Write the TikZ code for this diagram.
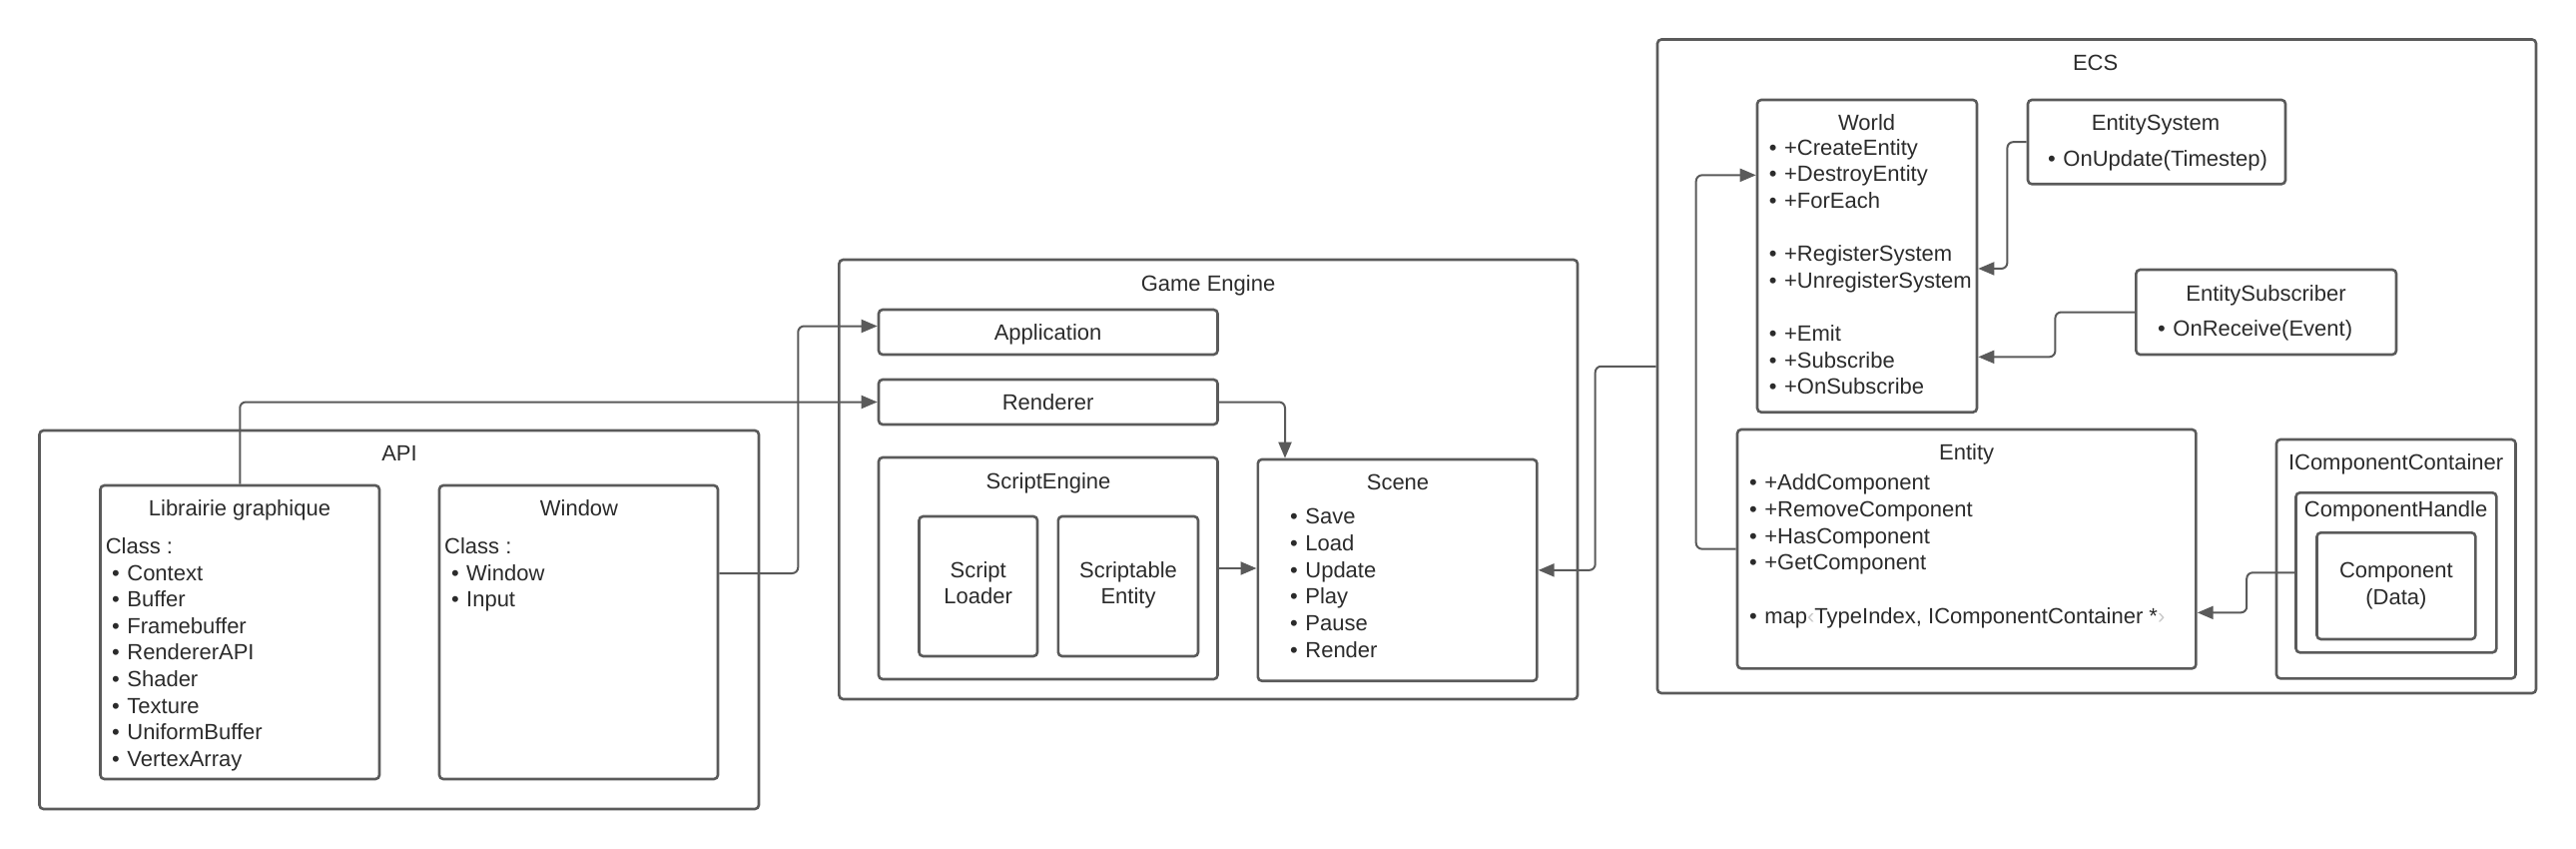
\documentclass[tikz,border=0pt]{standalone}
\usepackage{fontspec}
\setmainfont{Liberation Sans}
\usetikzlibrary{arrows.meta}
\definecolor{linec}{HTML}{5A5A5A}
\definecolor{textc}{HTML}{2B2B2B}
\definecolor{brk}{HTML}{C8C8C8}
\newcommand\bitem{•\hspace{7.5pt}}
\newcommand\mybox[5]{\node[box, minimum width={#4-#2}, minimum height={#5-#3}] (#1) at ({(#2+#4)/2},{(#3+#5)/2}) {};}
\begin{document}
\begin{tikzpicture}[x=1pt,y=-1pt,
  box/.style={draw=linec, line width=2.6pt, rounded corners=4pt, inner sep=0pt},
  lbl/.style={text=textc, font=\fontsize{22}{26.6}\selectfont, inner sep=0pt, anchor=base},
  itm/.style={lbl, anchor=base west},
  conn/.style={draw=linec, line width=2pt, rounded corners=6pt},
  arr/.style={conn, -{Triangle[length=16pt,width=13pt]}}]
\useasboundingbox (0,0) rectangle (2580,850);

% ---------- API ----------
\mybox{api}{39.5}{431}{760}{810}
\node[lbl] (apit) at (400,461) {API};
\mybox{lib}{100.5}{486}{380}{780}
\node[lbl] (libt) at (240,516) {Librairie graphique};
\node[itm] (libc) at (105.6,554.4) {Class :};
\foreach \t [count=\i] in {Context,Buffer,Framebuffer,RendererAPI,Shader,Texture,UniformBuffer,VertexArray}
  \node[itm] (lib\i) at (112,{581+(\i-1)*26.6}) {\bitem\t};
\mybox{win}{440}{486}{719}{780}
\node[lbl] (wint) at (580,516) {Window};
\node[itm] (winc) at (445,554.4) {Class :};
\node[itm] (win1) at (451.8,581) {\bitem Window};
\node[itm] (win2) at (451.8,607.6) {\bitem Input};

% ---------- Game Engine ----------
\mybox{ge}{840.4}{260}{1580}{700}
\node[lbl] (get) at (1210,291) {Game Engine};
\mybox{app}{880}{310}{1219.5}{355}
\node[lbl] (appt) at (1049.6,340.5) {Application};
\mybox{rend}{880}{380}{1219.5}{425}
\node[lbl] (rendt) at (1049.6,410.5) {Renderer};
\mybox{se}{880}{458}{1219.5}{680}
\node[lbl] (set) at (1050,489) {ScriptEngine};
\mybox{sl}{920.5}{517}{1039}{657}
\node[lbl] (slt1) at (979.7,578) {Script};
\node[lbl] (slt2) at (979.7,604.7) {Loader};
\mybox{sen}{1059.8}{517}{1200}{657}
\node[lbl] (sent1) at (1130,578) {Scriptable};
\node[lbl] (sent2) at (1130,604.7) {Entity};
\mybox{scene}{1259.8}{460}{1539.4}{681.7}
\node[lbl] (scenet) at (1400,490) {Scene};
\foreach \t [count=\i] in {Save,Load,Update,Play,Pause,Render}
  \node[itm] (sc\i) at (1292,{524.7+(\i-1)*26.66}) {\bitem\t};

% ---------- ECS ----------
\mybox{ecs}{1660}{39.5}{2540}{694}
\node[lbl] (ecst) at (2098.6,70.7) {ECS};
\mybox{world}{1760}{100}{1980}{412.7}
\node[lbl] (worldt) at (1869.6,130.7) {World};
\foreach \t/\yy [count=\i] in {+CreateEntity/155.3,+DestroyEntity/182,+ForEach/208.7,+RegisterSystem/262,+UnregisterSystem/288.7,+Emit/341.3,+Subscribe/368,+OnSubscribe/394.7}
  \node[itm] (w\i) at (1771.7,\yy) {\bitem\t};
\mybox{es}{2031}{100}{2289}{184.3}
\node[lbl] (est) at (2159,130.7) {EntitySystem};
\node[itm] (es1) at (2051,167) {\bitem OnUpdate(Timestep)};
\mybox{esub}{2139.4}{270}{2400}{355}
\node[lbl] (esubt) at (2269.5,301.3) {EntitySubscriber};
\node[itm] (esub1) at (2161,336.3) {\bitem OnReceive(Event)};
\mybox{entity}{1740}{430}{2199.4}{669.3}
\node[lbl] (entt) at (1969.7,460.7) {Entity};
\foreach \t [count=\i] in {+AddComponent,+RemoveComponent,+HasComponent,+GetComponent}
  \node[itm] (ent\i) at (1751.9,{490.7+(\i-1)*26.66}) {\bitem\t};
\node[itm] (ent5) at (1751.9,624) {\bitem map{\color{brk}‹}TypeIndex, IComponentContainer *{\color{brk}›}};
\mybox{icc}{2280}{440}{2519.5}{679.3}
\node[lbl] (icct) at (2399.6,470.7) {IComponentContainer};
\mybox{ch}{2299.5}{493.3}{2500.3}{653.3}
\node[lbl] (cht) at (2399.6,517) {ComponentHandle};
\mybox{comp}{2320.5}{533.3}{2479.3}{640}
\node[lbl] (compt1) at (2399.9,578) {Component};
\node[lbl] (compt2) at (2399.9,605.3) {(Data)};

% ---------- connectors ----------
\draw[arr] (lib.north) |- (rend.west);
\draw[arr] ([yshift=59pt]win.east) -- ++(79,0) |- ([yshift=6pt]app.west);
\draw[arr] (rend.east) -| ([xshift=-112.6pt]scene.north);
\draw[arr] (se.east) -- (se.east -| scene.west);
\draw[arr] (ecs.west) -- ++(-61,0) |- (scene.east);
\draw[arr] (entity.west) -- ++(-40,0) |- ([yshift=81pt]world.west);
\draw[arr] (es.west) -- ++(-19.3,0) |- ([yshift=-12.6pt]world.east);
\draw[arr] (esub.west) -- ++(-79.7,0) |- ([yshift=-101pt]world.east);
\draw[arr] (ch.west) -- ++(-48,0) |- ([yshift=-63.7pt]entity.east);
\end{tikzpicture}
\end{document}
